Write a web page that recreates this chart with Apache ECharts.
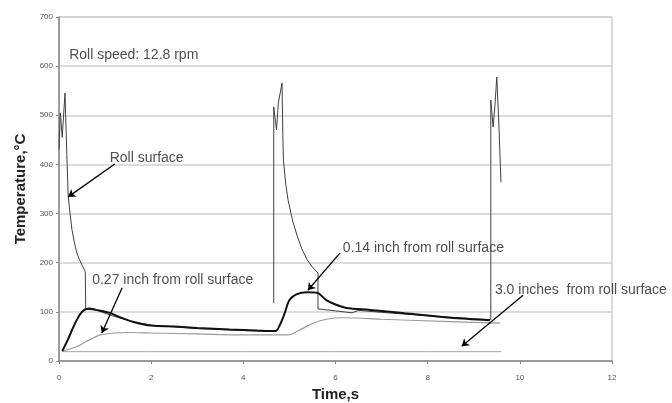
<!DOCTYPE html>
<html>
<head>
<meta charset="utf-8">
<script src="https://cdn.jsdelivr.net/npm/echarts@6/dist/echarts.min.js"></script>
<style>
  html, body { margin: 0; padding: 0; background: #fff; }
  #chart { width: 672px; height: 403px; }
</style>
</head>
<body>
<div id="chart"></div>
<script>
// time (s) and temperature (°C); null = gap in the trace
const rollTime = [0.0, 0.03, 0.07, 0.13, 0.17, 0.2, 0.24, 0.28, 0.33, 0.38, 0.44, 0.5, 0.57, 0.58, 0.8, 1.0, 1.3, 1.6, 2.0, 3.0, 4.0, 4.66,
  4.66, 4.66, 4.66, 4.72, 4.76, 4.84, 4.855, 4.87, 4.92, 4.97, 5.07, 5.17, 5.27, 5.38, 5.5, 5.62, 5.62, 6.0, 6.36, 6.5, 7.0, 8.0, 9.0, 9.37,
  9.37, 9.42, 9.46, 9.5, 9.55, 9.59];
const rollTemp = [430, 505, 455, 545, 420, 335, 300, 268, 243, 222, 207, 195, 182, 105, 104, 97, 88, 80, 73, 66, 62, 60,
  null, 118, 517, 470, 525, 566, 470, 409, 360, 328, 285, 254, 228, 207, 191, 179, 106, 102, 98, 103, 99, 92, 86, 84,
  531, 476, 520, 578, 470, 364];

const nearTime = [0.07, 0.2, 0.31, 0.45, 0.55, 0.65, 0.8, 1.1, 1.3, 1.6, 2.0, 2.5, 3.0, 3.7, 4.3, 4.7, 4.8, 4.9, 5.0,
  5.16, 5.38, 5.6, 5.8, 6.0, 6.24, 6.75, 7.5, 8.5, 9.35];
const nearTemp = [20, 45, 69, 94, 104, 107, 104, 98, 90, 80, 72, 70, 67, 64, 62, 61, 75, 98, 124,
  136, 140, 139, 124, 115, 108, 104, 97, 88, 83];

const midTime = [0.07, 0.4, 0.7, 0.9, 1.2, 1.5, 2.0, 3.0, 4.0, 4.97, 5.2, 5.5, 5.8, 6.2, 7.0, 8.5, 9.57];
const midTemp = [20, 30, 45, 53, 57, 58, 57, 55, 53, 53, 62, 76, 85, 88, 85, 80, 77];

const deepTime = [0.07, 2.0, 4.0, 6.0, 8.0, 9.6];
const deepTemp = [19, 19, 19, 19, 19, 19];

const noteText = ["Roll speed: 12.8 rpm", "Roll surface", "0.27 inch from roll surface",
  "0.14 inch from roll surface", "3.0 inches  from roll surface"];
const noteX = [0.22, 1.1, 0.72, 6.16, 9.46];
const noteY = [623, 413, 165, 230, 145];

const arrowFrom = [[1.21, 401], [1.37, 149], [6.1, 220], [10.07, 134]];
const arrowTo = [[0.2, 334], [0.93, 57], [5.4, 144], [8.74, 30]];

const xTicks = [0, 2, 4, 6, 8, 10, 12];
const yTicks = [0, 100, 200, 300, 400, 500, 600, 700];

function pairs(xs, ys) {
  return xs.map((x, i) => [x, ys[i] === null ? "-" : ys[i]]);
}

const chart = echarts.init(document.getElementById("chart"));

const option = {
  animation: false,
  backgroundColor: "#fff",
  textStyle: { fontFamily: "Liberation Sans, Arial, sans-serif" },
  grid: {
    left: 59,
    right: 60,
    top: 17,
    bottom: 42,
    outerBoundsMode: "none",
    containLabel: false,
    show: true,
    borderColor: "#d0d0d0",
    borderWidth: 1.5,
  },
  xAxis: {
    type: "value",
    min: xTicks[0],
    max: xTicks[xTicks.length - 1],
    interval: 2,
    name: "Time,s",
    nameLocation: "middle",
    nameGap: 24,
    nameTextStyle: { fontSize: 15, fontWeight: "bold", color: "#222" },
    axisLine: { lineStyle: { color: "#888", width: 1.5 } },
    axisTick: { show: true, length: 3, lineStyle: { color: "#888" } },
    axisLabel: { fontSize: 8, color: "#555", margin: 13 },
    splitLine: { show: false },
  },
  yAxis: {
    type: "value",
    min: yTicks[0],
    max: yTicks[yTicks.length - 1],
    interval: 100,
    name: "Temperature,°C",
    nameLocation: "middle",
    nameRotate: 90,
    nameGap: 31,
    nameTextStyle: { fontSize: 15, fontWeight: "bold", color: "#222" },
    axisLine: { show: true, lineStyle: { color: "#888", width: 1.5 } },
    axisTick: { show: true, length: 3, lineStyle: { color: "#888" } },
    axisLabel: { fontSize: 8, color: "#555", margin: 6 },
    splitLine: { show: true, lineStyle: { color: "#d0d0d0", width: 1.5 } },
  },
  series: [
    {
      name: "3.0 inches",
      type: "line",
      data: pairs(deepTime, deepTemp),
      showSymbol: false,
      lineStyle: { color: "#a8a8a8", width: 1 },
    },
    {
      name: "0.27 inch",
      type: "line",
      data: pairs(midTime, midTemp),
      showSymbol: false,
      smooth: 0.3,
      lineStyle: { color: "#9a9a9a", width: 1.2 },
    },
    {
      name: "Roll surface",
      type: "line",
      data: pairs(rollTime, rollTemp),
      showSymbol: false,
      connectNulls: false,
      lineStyle: { color: "#404040", width: 1 },
    },
    {
      name: "0.14 inch",
      type: "line",
      data: pairs(nearTime, nearTemp),
      showSymbol: false,
      smooth: 0.3,
      lineStyle: { color: "#111", width: 2 },
    },
    {
      name: "notes",
      type: "scatter",
      data: noteText.map((t, i) => ({ value: [noteX[i], noteY[i]], name: t })),
      symbolSize: 0,
      label: {
        show: true,
        position: "right",
        distance: 0,
        formatter: p => p.name,
        fontSize: 14,
        color: "#222",
      },
      markLine: {
        silent: true,
        symbol: ["none", "arrow"],
        symbolSize: 7,
        label: { show: false },
        lineStyle: { color: "#000", width: 1.3, type: "solid" },
        data: arrowFrom.map((f, i) => [{ coord: f }, { coord: arrowTo[i] }]),
      },
    },
  ],
};

chart.setOption(option);
</script>
</body>
</html>
